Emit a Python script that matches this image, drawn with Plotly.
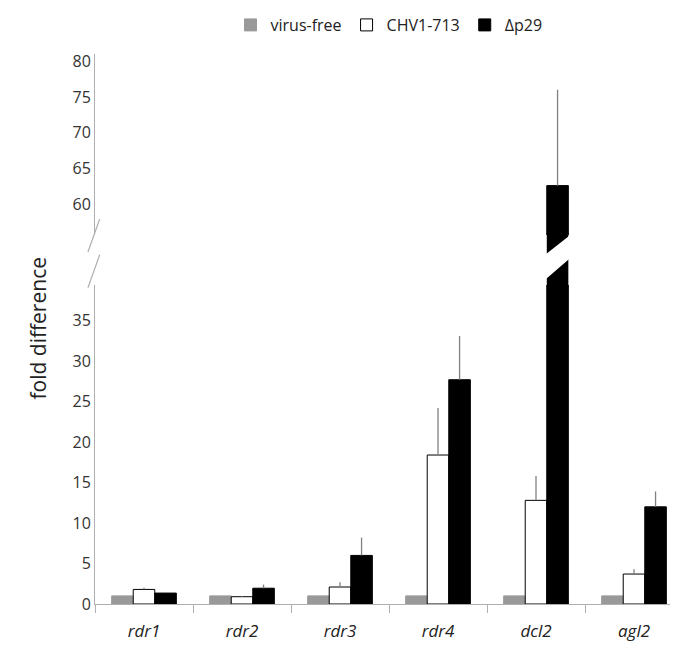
import plotly.graph_objects as go
from plotly.subplots import make_subplots

genes = ["rdr1", "rdr2", "rdr3", "rdr4", "dcl2", "agl2"]
virus_free = [1.0, 1.0, 1.0, 1.0, 1.0, 1.0]
chv1 = [1.8, 0.9, 2.1, 18.4, 12.8, 3.7]
chv1_err = [0.2, 0.1, 0.6, 5.8, 3.0, 0.6]
dp29 = [1.35, 1.95, 6.0, 27.7, 62.6, 12.0]
dp29_err = [0.1, 0.45, 2.2, 5.4, 13.4, 1.9]

LOW_TOP, UP_BOT = 0.58, 0.671
BARGAP = 0.34
AXIS_GRAY = "#b0b0b0"
ERR_GRAY = "#808080"
FONT = "Open Sans"

fig = make_subplots(rows=2, cols=1, shared_xaxes=True, vertical_spacing=0.0)

series = [
    ("virus-free", virus_free, None, "#999999", "#999999"),
    ("CHV1-713", chv1, chv1_err, "white", "black"),
    ("Δp29", dp29, dp29_err, "black", "black"),
]
for name, vals, err, fill, edge in series:
    for row in (1, 2):
        e = None
        if err is not None:
            # only show an error bar in the panel where the bar top lies
            arr = [er if ((v > 40) == (row == 1)) else 0 for v, er in zip(vals, err)]
            e = dict(type="data", array=arr, arrayminus=[0] * len(arr), symmetric=False,
                     color=ERR_GRAY, thickness=1.3, width=0)
        fig.add_trace(go.Bar(
            x=genes, y=vals, name=name, error_y=e,
            marker=dict(color=fill, line=dict(color=edge, width=1)),
            showlegend=(row == 2), legendgroup=name,
        ), row=row, col=1)

fig.update_layout(
    width=678, height=650, barmode="group", bargap=BARGAP, bargroupgap=0,
    plot_bgcolor="white", paper_bgcolor="white",
    margin=dict(l=87, r=3, t=46, b=54),
    font=dict(family=FONT, size=16, color="#333"),
    legend=dict(orientation="h", x=0.5, xanchor="center", y=1.0, yanchor="top",
                yref="container", font=dict(size=16, color="#222"), traceorder="normal"),
)
fig.update_yaxes(domain=[UP_BOT, 1], range=[55.7, 81], tickvals=[60, 65, 70, 75, 80],
                 showgrid=False, zeroline=False, showline=True, linecolor=AXIS_GRAY,
                 ticks="", row=1, col=1)
fig.update_yaxes(domain=[0, LOW_TOP], range=[0, 39.4], tickvals=[0, 5, 10, 15, 20, 25, 30, 35],
                 showgrid=False, zeroline=False, showline=True, linecolor=AXIS_GRAY,
                 ticks="", row=2, col=1)
fig.update_xaxes(showline=True, linecolor=AXIS_GRAY, ticks="outside", tickson="boundaries",
                 ticklen=8, tickcolor=AXIS_GRAY, showgrid=False, row=2, col=1)
fig.update_xaxes(showline=False, ticks="", showgrid=False, row=1, col=1)
fig.update_xaxes(tickvals=genes, ticktext=[f"<i>{g}</i>" for g in genes],
                 tickfont=dict(size=17, color="#222"), ticklabelstandoff=12, row=2, col=1)

# dcl2 black bar continued across the break, with a slanted white cut
i = genes.index("dcl2")
w = (1 - BARGAP) / 3
bx0, bx1 = i + w / 2, i + 1.5 * w
fig.add_shape(type="rect", xref="x2", yref="paper", x0=bx0, x1=bx1, y0=LOW_TOP - 0.002,
              y1=UP_BOT + 0.002, fillcolor="black", line_width=0)
fig.add_shape(type="path", xref="x2", yref="paper",
              path=f"M {bx0 - 0.02} 0.589 L {bx0 - 0.02} 0.6345 L {bx1 + 0.02} 0.671 "
                   f"L {bx1 + 0.02} 0.629 Z",
              fillcolor="white", line_width=0)

# axis break slashes
for y0 in (0.64, 0.575):
    fig.add_shape(type="line", xref="paper", yref="paper", x0=-0.012, x1=0.008,
                  y0=y0, y1=y0 + 0.06, line=dict(color=AXIS_GRAY, width=1.2))

fig.add_annotation(text="fold difference", xref="paper", yref="paper", x=-0.125, y=0.5,
                   textangle=-90, showarrow=False, font=dict(size=21, color="#222"))

fig.write_html("out.html")
